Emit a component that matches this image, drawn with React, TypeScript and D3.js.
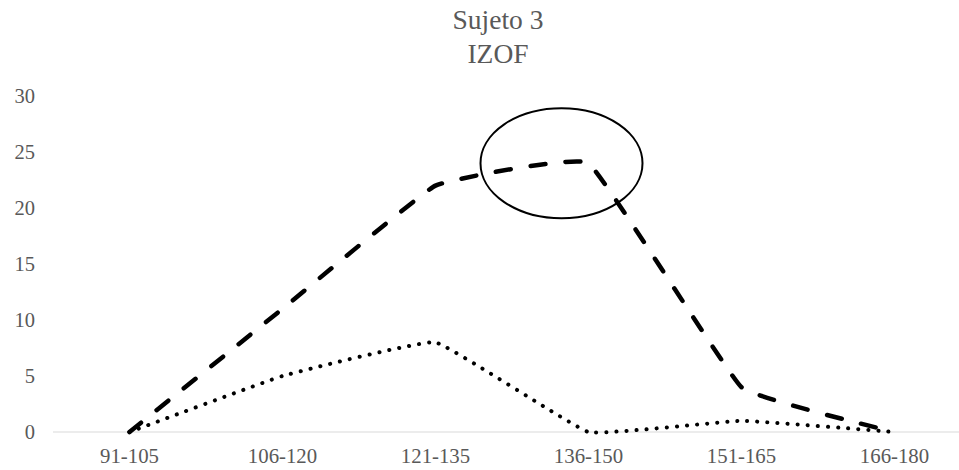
import React from "react";
import * as d3 from "d3";

const categories = ["91-105", "106-120", "121-135", "136-150", "151-165", "166-180"];
const dashedSeries = [0, 11, 22, 24, 4, 0];
const dottedSeries = [0, 5, 8, 0, 1, 0];
const yTicks = [0, 5, 10, 15, 20, 25, 30];
const titleLines = ["Sujeto 3", "IZOF"];

const W = 959;
const H = 470;
const TEXT = "#595959";

export default function App() {
  const x = d3.scalePoint().domain(categories).range([53, 971]).padding(0.5);
  const y = d3.scaleLinear().domain([0, 30]).range([432, 96]);

  const line = d3
    .line()
    .x((_: number, i: number) => x(categories[i]) as number)
    .y((d: number) => y(d))
    .curve(d3.curveCardinal.tension(0.75));

  const ellCx = (x("136-150") as number) - 27;
  const ellCy = y(24);

  return (
    <svg width={W} height={H} style={{ position: "fixed", left: 0, top: 0 }}>
      <style>{`.t { font-family: 'Liberation Serif', 'Tinos', 'Times New Roman', serif; }`}</style>
      <rect width={W} height={H} fill="#fff" />
      {titleLines.map((t, i) => (
        <text
          key={t}
          className="t"
          x={498}
          y={29 + i * 34}
          textAnchor="middle"
          fontSize={27.5}
          fill={TEXT}
          style={{ fontFamily: "'Liberation Serif'" }}
        >
          {t}
        </text>
      ))}
      {yTicks.map((t) => (
        <text
          key={t}
          className="t"
          x={35}
          y={y(t)}
          dy="0.35em"
          textAnchor="end"
          fontSize={20.5}
          fill={TEXT}
          style={{ fontFamily: "'Liberation Serif'" }}
        >
          {t}
        </text>
      ))}
      <line x1={53} x2={W} y1={y(0)} y2={y(0)} stroke="#d9d9d9" strokeWidth={1} />
      {categories.map((c) => (
        <text
          key={c}
          className="t"
          x={x(c)}
          y={463}
          textAnchor="middle"
          fontSize={20.8}
          fill={TEXT}
          style={{ fontFamily: "'Liberation Serif'" }}
        >
          {c}
        </text>
      ))}
      <path
        d={line(dottedSeries as any) || ""}
        fill="none"
        stroke="#000"
        strokeWidth={4}
        strokeLinecap="round"
        strokeDasharray="0.1 10"
      />
      <path
        d={line(dashedSeries as any) || ""}
        fill="none"
        stroke="#000"
        strokeWidth={4.5}
        strokeLinecap="round"
        strokeDasharray="15 20"
      />
      <ellipse cx={ellCx} cy={ellCy} rx={81} ry={55} fill="none" stroke="#000" strokeWidth={2} />
    </svg>
  );
}
